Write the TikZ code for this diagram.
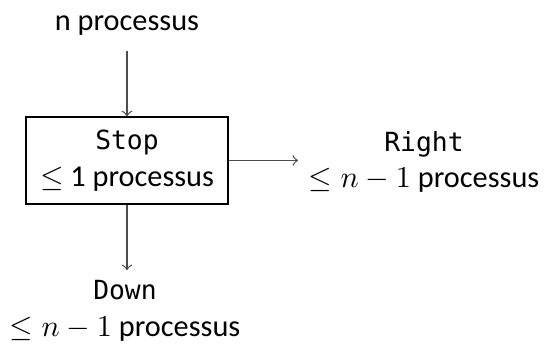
\documentclass[tikz,border=0pt]{standalone}
\usepackage{fontspec}
\setmainfont{Carlito}
\setmonofont{DejaVu Sans Mono}[Scale=0.87]
\begin{document}
\begin{tikzpicture}[x=0.33pt,y=-0.33pt,
  lbl/.style={align=center,font=\normalsize,inner sep=3.3pt},
  boxnode/.style={draw,align=center,minimum width=66.7pt,minimum height=28.7pt,inner sep=0pt},
  conn/.style={->,draw=black!70,line width=0.4pt}]
\useasboundingbox (0,0) rectangle (547,347);
\node[lbl] (top) at (127,26) {n processus};
\node[boxnode] (box) at (127,160.5) {\texttt{Stop}\\$\leq$ 1 processus};
\node[lbl] (right) at (424,162) {\texttt{Right}\\$\leq n-1$ processus};
\node[lbl] (down) at (125,311) {\texttt{Down}\\$\leq n-1$ processus};
\draw[conn,shorten <=1.5pt] (top.south -| box.north) -- (box.north);
\draw[conn] (box.east) -- (right.west |- box.east);
\draw[conn] (box.south) -- (down.north -| box.south);
\end{tikzpicture}
\end{document}
